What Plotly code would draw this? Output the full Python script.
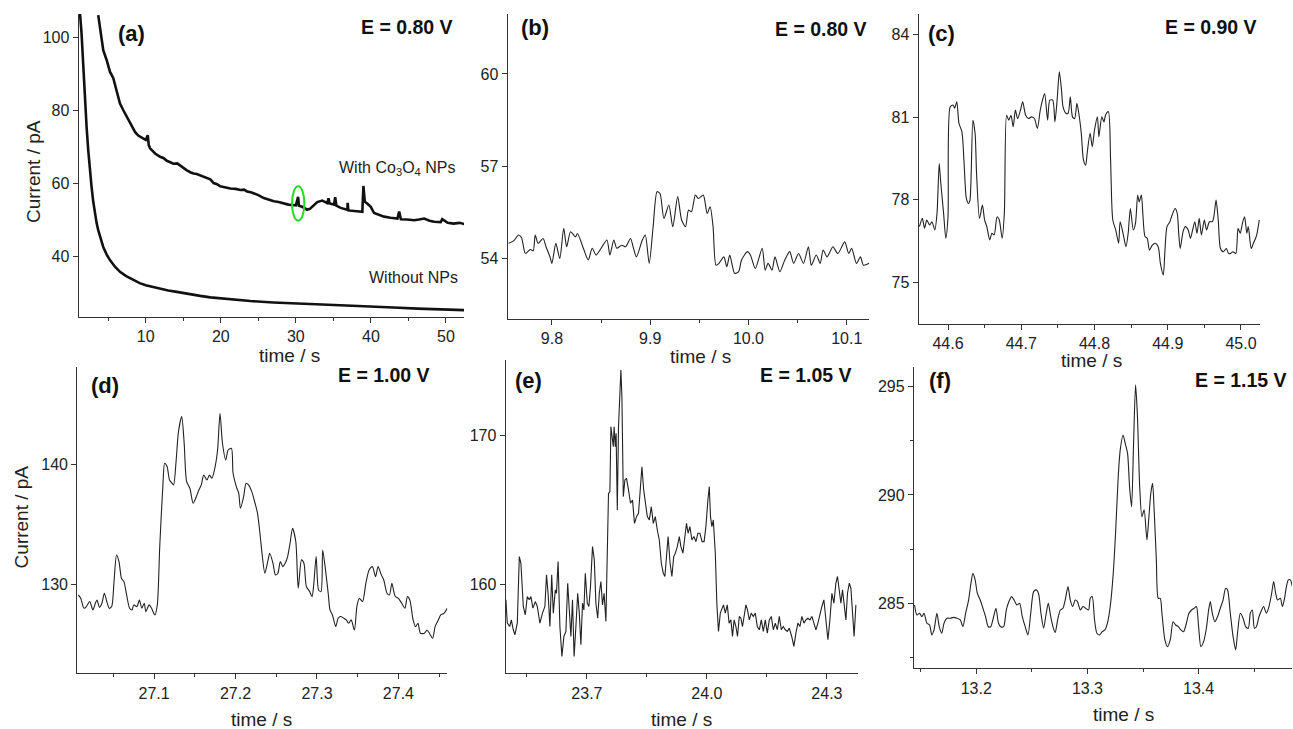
import plotly.graph_objects as go

# ---------------- data ----------------
# (a) full transients
a_with_t = [3.67, 4.0, 4.34, 4.79, 5.0, 5.23, 5.68, 5.9, 6.12, 6.57, 7.0, 7.24, 7.6, 7.91, 8.3, 8.57, 9.0, 9.24, 9.7, 10.0,
            10.27, 10.4, 10.58, 11.25, 11.92, 12.4, 12.81, 13.3, 13.70, 14.2, 14.59, 15.0, 15.48, 16.0, 16.37, 16.8, 17.26,
            17.7, 18.15, 18.6, 19.04, 19.5, 19.93, 20.6, 21.27, 22.0, 22.6, 23.1, 23.5, 24.0, 24.39, 25.0, 25.73, 26.4,
            27.06, 27.7, 28.40, 29.0, 29.51, 30.0, 30.3, 30.4, 30.85, 31.51, 31.9, 32.18, 32.85, 33.52, 34.19, 34.35,
            34.5, 35.08, 35.24, 35.4, 35.97, 36.86, 36.9, 37.0, 37.75, 38.3, 38.86, 39.0, 39.1, 39.18, 39.5, 39.98,
            40.42, 41.0, 41.76, 42.6, 43.54, 43.76, 43.99, 44.8, 45.77, 46.4, 47.1, 47.8, 48.45, 49.3, 49.5, 50.23,
            51.0, 51.8, 52.58]
a_with_i = [106.2, 101.0, 96.6, 93.9, 92.5, 90.7, 88.9, 87.0, 85.7, 82.0, 80.2, 79.3, 77.6, 76.5, 75.0, 74.2, 73.2, 72.9,
            72.3, 72.0, 73.3, 70.6, 69.7, 68.3, 67.4, 67.0, 66.3, 65.9, 65.5, 65.6, 65.0, 64.3, 63.7, 63.1, 62.8, 62.7,
            62.3, 61.8, 61.6, 61.2, 60.2, 59.9, 59.3, 59.0, 58.7, 58.6, 58.3, 58.4, 57.9, 57.7, 57.4, 56.9, 56.1, 55.6,
            55.2, 55.0, 54.6, 54.3, 54.2, 54.1, 56.4, 54.0, 53.7, 52.9, 53.2, 53.8, 55.0, 55.4, 54.7, 56.0, 54.6, 54.3,
            56.3, 54.0, 53.4, 52.9, 54.8, 52.7, 52.6, 52.5, 52.3, 59.4, 56.0, 55.1, 54.6, 53.7, 52.0, 51.5, 51.0, 50.7,
            50.5, 52.4, 50.3, 50.2, 50.0, 50.2, 50.5, 49.9, 49.6, 49.5, 50.3, 49.3, 49.1, 49.3, 48.9]
a_without_t = [1.15, 1.25, 1.45, 1.67, 1.89, 2.12, 2.34, 2.55, 2.78, 3.0, 3.23, 3.45, 3.67, 4.0, 4.34, 4.8, 5.23, 5.9,
               6.57, 7.4, 8.35, 9.2, 10.0, 11.0, 11.92, 13.0, 14.14, 15.6, 17.26, 18.6, 19.93, 22.0, 23.94, 27.0, 29.96,
               32.5, 35.08, 37.5, 39.98, 43.0, 46.21, 49.5, 52.58]
a_without_i = [112, 106.5, 101.2, 92.0, 82.9, 75.6, 69.2, 63.8, 59.2, 55.2, 51.9, 49.3, 47.3, 44.8, 42.7, 40.6, 39.1,
               37.3, 35.9, 34.7, 33.6, 32.8, 32.2, 31.7, 31.3, 30.8, 30.4, 29.8, 29.3, 28.9, 28.6, 28.2, 27.9, 27.5,
               27.2, 26.9, 26.8, 26.6, 26.3, 26.1, 25.8, 25.6, 25.4]

# (b) E = 0.80 V zoom
b_t = [9.756, 9.761, 9.766, 9.769, 9.773, 9.778, 9.781, 9.783, 9.786, 9.791, 9.794, 9.798, 9.800, 9.804, 9.808, 9.812,
       9.815, 9.819, 9.824, 9.826, 9.832, 9.837, 9.841, 9.845, 9.851, 9.856, 9.859, 9.863, 9.866, 9.871, 9.875, 9.880,
       9.883, 9.886, 9.892, 9.895, 9.899, 9.903, 9.907, 9.910, 9.914, 9.919, 9.923, 9.928, 9.932, 9.936, 9.939, 9.942,
       9.946, 9.949, 9.954, 9.958, 9.961, 9.964, 9.967, 9.970, 9.975, 9.978, 9.981, 9.986, 9.990, 9.993, 9.999, 10.002,
       10.007, 10.014, 10.017, 10.020, 10.024, 10.027, 10.032, 10.037, 10.042, 10.046, 10.051, 10.056, 10.061, 10.064,
       10.069, 10.073, 10.076, 10.080, 10.083, 10.086, 10.091, 10.098, 10.102, 10.105, 10.110, 10.114, 10.117, 10.123]
b_i = [54.49, 54.57, 54.76, 54.68, 54.16, 54.29, 54.25, 54.76, 54.49, 54.65, 54.38, 54.05, 53.84, 54.49, 54.00, 54.98,
       54.38, 54.87, 54.70, 54.81, 54.33, 53.95, 54.33, 54.11, 54.38, 54.60, 54.11, 54.60, 54.33, 54.43, 54.38, 54.65,
       54.33, 54.05, 54.60, 54.76, 53.84, 55.03, 56.17, 56.11, 55.30, 55.74, 55.03, 56.01, 55.25, 55.03, 55.57, 55.52,
       56.06, 55.95, 56.06, 55.46, 55.68, 55.03, 53.78, 53.84, 54.05, 53.73, 54.11, 53.51, 53.57, 53.95, 54.22, 54.11,
       53.67, 54.33, 53.62, 53.84, 53.62, 54.05, 53.57, 53.95, 54.22, 53.84, 54.16, 53.84, 54.38, 53.78, 54.11, 53.84,
       54.27, 54.05, 54.22, 54.38, 54.16, 54.54, 54.16, 54.33, 53.84, 54.05, 53.78, 53.84]

# (c) E = 0.90 V
c_t = [44.561, 44.565, 44.568, 44.571, 44.575, 44.578, 44.582, 44.585, 44.588, 44.590, 44.594, 44.597, 44.600, 44.603,
       44.607, 44.609, 44.612, 44.615, 44.619, 44.622, 44.625, 44.628, 44.630, 44.634, 44.637, 44.639, 44.643, 44.647,
       44.650, 44.653, 44.657, 44.660, 44.663, 44.667, 44.670, 44.674, 44.677, 44.680, 44.683, 44.686, 44.689, 44.692,
       44.695, 44.699, 44.702, 44.706, 44.710, 44.714, 44.718, 44.722, 44.726, 44.729, 44.732, 44.736, 44.739, 44.743,
       44.746, 44.749, 44.752, 44.755, 44.757, 44.761, 44.764, 44.767, 44.770, 44.773, 44.776, 44.779, 44.782, 44.785,
       44.788, 44.790, 44.794, 44.797, 44.800, 44.804, 44.806, 44.810, 44.813, 44.815, 44.819, 44.822, 44.825, 44.829,
       44.833, 44.835, 44.839, 44.843, 44.846, 44.849, 44.853, 44.856, 44.859, 44.861, 44.864, 44.866, 44.869, 44.872,
       44.875, 44.879, 44.883, 44.887, 44.890, 44.894, 44.896, 44.899, 44.903, 44.906, 44.910, 44.913, 44.915, 44.917,
       44.921, 44.924, 44.928, 44.931, 44.934, 44.937, 44.940, 44.943, 44.946, 44.950, 44.953, 44.957, 44.961, 44.963,
       44.966, 44.969, 44.972, 44.976, 44.980, 44.983, 44.986, 44.989, 44.993, 44.996, 44.999, 45.002, 45.005, 45.008,
       45.010, 45.014, 45.017, 45.020, 45.022, 45.025]
c_i = [77.03, 77.33, 76.97, 77.27, 77.09, 77.21, 76.91, 77.51, 79.32, 78.66, 77.51, 76.61, 77.39, 81.38, 81.44, 81.32,
       81.56, 80.77, 80.47, 79.32, 78.06, 77.87, 77.99, 80.89, 80.41, 78.96, 77.33, 77.81, 77.27, 77.03, 76.55, 76.79,
       76.73, 77.39, 77.27, 76.61, 77.57, 81.07, 80.89, 81.07, 80.65, 81.26, 80.95, 81.26, 81.56, 81.07, 80.95, 81.01,
       80.95, 80.59, 81.26, 81.62, 81.86, 80.89, 81.62, 81.62, 80.83, 81.62, 82.64, 81.98, 81.38, 81.14, 81.14, 81.74,
       81.01, 80.95, 81.50, 81.07, 80.41, 79.44, 79.26, 79.69, 80.41, 79.93, 80.53, 81.01, 80.29, 81.01, 80.83, 81.07,
       81.20, 79.44, 77.27, 76.91, 76.43, 77.21, 76.79, 76.30, 76.79, 77.69, 76.91, 77.15, 78.18, 77.93, 78.18, 77.51,
       76.67, 76.61, 76.18, 76.36, 76.43, 76.30, 75.70, 75.28, 76.06, 77.03, 77.21, 77.45, 77.69, 77.51, 76.79, 76.24,
       76.85, 77.03, 76.91, 76.61, 76.91, 77.21, 76.79, 77.33, 76.73, 77.27, 76.91, 77.21, 77.21, 77.39, 77.99, 77.27,
       76.24, 76.12, 76.24, 76.06, 76.06, 76.12, 76.06, 76.97, 76.79, 77.15, 77.39, 76.79, 77.03, 76.24, 76.43, 76.61,
       76.79, 77.27]

# (d) E = 1.00 V
d_t = [27.007, 27.010, 27.014, 27.017, 27.021, 27.025, 27.028, 27.030, 27.033, 27.036, 27.039, 27.042, 27.045, 27.048,
       27.051, 27.054, 27.057, 27.060, 27.063, 27.066, 27.070, 27.073, 27.075, 27.079, 27.082, 27.085, 27.088, 27.090,
       27.094, 27.097, 27.101, 27.104, 27.107, 27.111, 27.113, 27.116, 27.119, 27.122, 27.124, 27.127, 27.130, 27.134,
       27.137, 27.140, 27.144, 27.148, 27.152, 27.155, 27.158, 27.161, 27.165, 27.168, 27.171, 27.175, 27.178, 27.181,
       27.184, 27.188, 27.191, 27.195, 27.197, 27.201, 27.204, 27.206, 27.210, 27.213, 27.216, 27.220, 27.224, 27.227,
       27.230, 27.233, 27.236, 27.240, 27.242, 27.246, 27.249, 27.252, 27.255, 27.258, 27.261, 27.264, 27.267, 27.270,
       27.274, 27.277, 27.281, 27.284, 27.287, 27.291, 27.294, 27.296, 27.299, 27.302, 27.305, 27.307, 27.310, 27.314,
       27.316, 27.319, 27.323, 27.326, 27.329, 27.333, 27.336, 27.339, 27.342, 27.346, 27.349, 27.352, 27.356, 27.360,
       27.364, 27.368, 27.372, 27.375, 27.379, 27.382, 27.386, 27.389, 27.392, 27.396, 27.400, 27.404, 27.408, 27.411,
       27.414, 27.418, 27.421, 27.424, 27.427, 27.432, 27.435, 27.438, 27.442, 27.445, 27.449, 27.452, 27.456, 27.460]
d_i = [129.11, 128.83, 128.00, 128.14, 128.56, 127.86, 128.42, 128.69, 128.08, 128.42, 129.25, 128.56, 128.00, 128.14,
       130.36, 132.44, 131.89, 130.50, 130.22, 129.25, 128.00, 127.86, 128.28, 128.14, 128.69, 128.00, 128.42, 127.72,
       128.28, 128.00, 127.44, 128.28, 133.14, 138.42, 140.08, 139.81, 138.69, 138.42, 138.28, 140.19, 142.72, 143.97,
       141.75, 138.56, 138.00, 136.75, 137.31, 137.86, 138.28, 139.11, 138.69, 139.11, 138.83, 139.81, 141.19, 144.25,
       141.75, 140.36, 141.19, 141.33, 139.25, 138.14, 137.58, 136.33, 137.31, 138.42, 138.28, 137.72, 136.75, 135.92,
       134.25, 132.31, 130.92, 132.03, 132.58, 131.75, 130.78, 130.92, 131.89, 131.47, 131.75, 132.31, 133.42, 134.67,
       133.56, 129.67, 132.03, 131.75, 129.81, 129.39, 128.97, 129.94, 132.31, 129.53, 129.39, 132.86, 131.47, 129.11,
       127.86, 127.44, 126.47, 127.17, 127.31, 127.17, 127.03, 126.75, 127.03, 126.19, 128.14, 128.83, 128.56, 130.08,
       131.19, 131.47, 130.64, 131.47, 130.78, 130.36, 129.25, 129.11, 130.08, 129.00, 128.83, 128.42, 128.00, 128.97,
       128.69, 127.03, 126.47, 126.75, 125.92, 125.92, 126.19, 125.92, 125.50, 126.47, 127.03, 127.44, 127.58, 128.00]

# (e) E = 1.05 V
e_t = [23.4975, 23.501, 23.507, 23.511, 23.516, 23.520, 23.526, 23.531, 23.535, 23.541, 23.546, 23.551, 23.556, 23.560,
       23.565, 23.571, 23.576, 23.5825, 23.589, 23.595, 23.599, 23.603, 23.6075, 23.612, 23.616, 23.621, 23.624, 23.628,
       23.6325, 23.6375, 23.6425, 23.6475, 23.652, 23.656, 23.660, 23.664, 23.668, 23.6725, 23.677, 23.681, 23.685,
       23.689, 23.6925, 23.696, 23.701, 23.705, 23.709, 23.714, 23.7185, 23.7225, 23.727, 23.731, 23.735, 23.739,
       23.743, 23.7475, 23.751, 23.754, 23.7575, 23.760, 23.763, 23.766, 23.768, 23.771, 23.773, 23.776, 23.779,
       23.7825, 23.785, 23.7875, 23.791, 23.795, 23.799, 23.804, 23.809, 23.814, 23.819, 23.824, 23.829, 23.833,
       23.8375, 23.842, 23.846, 23.851, 23.856, 23.861, 23.866, 23.871, 23.876, 23.881, 23.886, 23.891, 23.895, 23.899,
       23.903, 23.908, 23.9125, 23.917, 23.921, 23.926, 23.931, 23.935, 23.940, 23.945, 23.949, 23.953, 23.9575,
       23.9625, 23.9675, 23.9725, 23.9775, 23.9825, 23.988, 23.993, 23.9975, 24.0025, 24.006, 24.009, 24.0125, 24.016,
       24.021, 24.025, 24.029, 24.0335, 24.0375, 24.0415, 24.046, 24.051, 24.0555, 24.060, 24.064, 24.068, 24.0725,
       24.0765, 24.081, 24.085, 24.089, 24.0935, 24.0975, 24.1015, 24.106, 24.111, 24.116, 24.121, 24.126, 24.131,
       24.136, 24.141, 24.146, 24.151, 24.156, 24.161, 24.166, 24.171, 24.176, 24.181, 24.186, 24.191, 24.196, 24.201,
       24.206, 24.212, 24.2175, 24.2225, 24.2275, 24.2325, 24.2375, 24.2425, 24.2475, 24.2525, 24.2575, 24.2625,
       24.2675, 24.2725, 24.2775, 24.2825, 24.2875, 24.2925, 24.2975, 24.3025, 24.3075, 24.3125, 24.3175, 24.3225,
       24.3265, 24.331, 24.335, 24.339, 24.343, 24.3475, 24.3515, 24.356, 24.360, 24.364, 24.368, 24.3725]
e_i = [158.95, 157.38, 157.15, 157.60, 156.93, 156.59, 157.38, 161.86, 161.41, 158.50, 157.94, 159.17, 158.95, 159.17,
       158.39, 158.83, 158.50, 157.38, 158.05, 158.50, 160.63, 159.39, 157.15, 160.63, 158.05, 159.62, 159.39, 161.52,
       157.15, 155.13, 156.48, 156.82, 160.07, 158.27, 156.48, 158.95, 155.13, 157.15, 159.39, 158.05, 155.92, 158.72,
       158.27, 160.74, 158.72, 158.50, 159.84, 162.53, 161.64, 158.72, 157.71, 159.39, 160.18, 158.61, 159.39, 157.49,
       162.98, 166.12, 166.23, 170.61, 169.93, 169.26, 170.61, 169.26, 170.16, 165.00, 170.61, 172.40, 174.42, 172.62,
       165.90, 167.02, 167.13, 166.35, 165.45, 165.67, 164.10, 164.55, 164.78, 166.23, 167.91, 166.35, 165.67, 164.55,
       164.33, 165.22, 164.10, 164.55, 163.65, 162.98, 161.41, 160.74, 160.52, 162.09, 163.21, 161.41, 160.52, 161.86,
       162.09, 162.53, 163.21, 162.53, 162.09, 163.21, 164.10, 163.43, 163.88, 162.98, 163.21, 162.87, 163.43, 163.43,
       162.87, 162.87, 163.88, 165.67, 166.57, 164.55, 163.88, 164.33, 162.09, 158.61, 156.82, 158.05, 158.39, 158.61,
       158.05, 158.61, 157.38, 157.60, 156.48, 157.60, 157.15, 156.48, 157.83, 157.71, 157.15, 158.05, 158.61, 158.27,
       157.60, 158.05, 157.83, 158.05, 157.15, 156.93, 157.60, 156.82, 157.60, 156.71, 157.60, 157.83, 156.93, 157.38,
       156.93, 157.83, 156.93, 157.15, 156.93, 156.82, 157.04, 156.48, 155.81, 156.71, 157.38, 157.15, 157.83, 157.38,
       157.60, 157.71, 157.60, 157.83, 157.38, 156.93, 157.38, 158.05, 158.50, 158.95, 157.38, 156.26, 157.60, 159.39,
       158.72, 160.07, 160.52, 159.39, 158.72, 159.62, 158.50, 157.60, 159.39, 160.07, 159.73, 158.05, 156.48, 158.61]

# (f) E = 1.15 V
f_t = [13.1445, 13.1466, 13.149, 13.151, 13.153, 13.1556, 13.158, 13.160, 13.162, 13.1646, 13.1667, 13.169, 13.171,
       13.1736, 13.1766, 13.1796, 13.1826, 13.1856, 13.188, 13.1904, 13.1931, 13.1952, 13.197, 13.199, 13.201, 13.2036,
       13.206, 13.2084, 13.2108, 13.213, 13.2156, 13.2177, 13.220, 13.222, 13.2246, 13.227, 13.2294, 13.2318, 13.234,
       13.2366, 13.239, 13.2414, 13.244, 13.2465, 13.249, 13.2516, 13.254, 13.256, 13.2582, 13.2606, 13.2627, 13.2648,
       13.267, 13.269, 13.271, 13.2732, 13.2756, 13.278, 13.280, 13.2825, 13.2846, 13.2867, 13.289, 13.291, 13.2936,
       13.296, 13.2984, 13.301, 13.3025, 13.3043, 13.3064, 13.3085, 13.311, 13.3133, 13.3157, 13.318, 13.3205, 13.323,
       13.3253, 13.3277, 13.3295, 13.332, 13.334, 13.3361, 13.3379, 13.3397, 13.3415, 13.3433, 13.345, 13.347, 13.349,
       13.351, 13.3535, 13.3553, 13.357, 13.3586, 13.360, 13.362, 13.3637, 13.3655, 13.367, 13.3697, 13.372, 13.3745,
       13.377, 13.3793, 13.3817, 13.384, 13.3865, 13.389, 13.3913, 13.3937, 13.396, 13.398, 13.400, 13.402, 13.4045,
       13.407, 13.409, 13.4105, 13.4123, 13.4147, 13.417, 13.4195, 13.422, 13.4243, 13.426, 13.4285, 13.431, 13.4333,
       13.435, 13.4375, 13.440, 13.4423, 13.4447, 13.4465, 13.4483, 13.4502, 13.452, 13.4543, 13.4567, 13.4585, 13.461,
       13.4633, 13.4657, 13.4675, 13.4693, 13.471, 13.4735, 13.4753, 13.477, 13.479, 13.4807, 13.4825, 13.4843]
f_i = [284.92, 284.46, 284.54, 284.38, 284.54, 284.08, 284.00, 283.54, 283.77, 284.54, 283.92, 283.62, 284.08, 284.31,
       284.31, 284.35, 284.31, 284.23, 283.92, 284.54, 285.15, 285.92, 286.38, 286.08, 285.46, 285.15, 284.77, 284.38,
       283.92, 283.92, 284.38, 284.77, 284.08, 283.92, 283.92, 284.69, 285.08, 285.31, 285.15, 284.92, 285.00, 284.38,
       283.92, 283.54, 284.54, 285.54, 285.62, 285.46, 284.54, 283.85, 284.46, 285.00, 284.38, 283.92, 283.65, 284.23,
       284.69, 284.77, 285.15, 285.77, 285.15, 284.85, 285.15, 285.08, 284.69, 284.85, 284.77, 284.69, 285.23, 285.31,
       284.23, 283.62, 283.54, 283.69, 283.77, 284.08, 284.85, 286.23, 288.23, 290.85, 292.08, 292.77, 292.38, 291.92,
       290.38, 289.46, 292.38, 295.08, 293.62, 290.38, 289.00, 289.31, 287.92, 289.00, 290.08, 290.54, 289.31, 287.00,
       285.23, 285.23, 284.54, 283.31, 283.00, 283.31, 284.15, 284.00, 283.92, 283.77, 283.69, 284.08, 284.54, 284.69,
       284.77, 284.85, 283.92, 283.00, 283.23, 283.85, 284.69, 285.08, 284.54, 284.15, 284.38, 284.77, 285.15, 285.69,
       285.62, 284.54, 283.46, 282.85, 283.62, 284.54, 284.31, 283.92, 283.85, 284.54, 284.69, 283.85, 283.92, 284.38,
       284.69, 284.85, 284.54, 284.85, 285.46, 286.00, 285.46, 285.15, 285.23, 284.85, 285.15, 285.77, 286.08, 286.08,
       285.77]

panel_labels = ["(a)", "(b)", "(c)", "(d)", "(e)", "(f)"]
potentials = ["E = 0.80 V", "E = 0.80 V", "E = 0.90 V", "E = 1.00 V", "E = 1.05 V", "E = 1.15 V"]

# ---------------- layout helpers ----------------
W, H = 1293, 729
def px(x):
    return x / W
def py(y):
    return 1 - y / H

FONT = "Liberation Sans, Arial, sans-serif"
AXC = "#333333"
TXT = "#222222"

fig = go.Figure()

# panel geometry in pixels: left, right, top, bottom
geom = [
    (78.7, 464.0, 14.0, 316.7),
    (507.7, 869.3, 14.0, 319.0),
    (918.7, 1260.0, 14.0, 324.0),
    (77.3, 447.3, 366.7, 673.3),
    (505.7, 857.7, 360.0, 673.3),
    (914.0, 1292.0, 366.7, 668.3),
]
xranges = [[1.07, 52.4], [9.755, 10.123], [44.56, 45.026], [27.0058, 27.46], [23.497, 24.377], [13.144, 13.484]]
yranges = [[23.6, 106.5], [52.03, 61.95], [73.5, 84.74], [122.58, 148.13], [154.0, 175.1], [282.0, 295.92]]
xticks = [dict(tick0=0, dtick=10, minor=5, fmt=""),
          dict(tick0=9.8, dtick=0.1, minor=0.05, fmt=".1f"),
          dict(tick0=44.6, dtick=0.1, minor=0.05, fmt=".1f"),
          dict(tick0=27.1, dtick=0.1, minor=0.05, fmt=".1f"),
          dict(tick0=23.7, dtick=0.3, minor=0.15, fmt=".1f"),
          dict(tick0=13.2, dtick=0.1, minor=0.05, fmt=".1f")]
yticks = [dict(tick0=0, dtick=20, minor=None),
          dict(tick0=54, dtick=3, minor=None),
          dict(tick0=75, dtick=3, minor=None),
          dict(tick0=130, dtick=10, minor=None),
          dict(tick0=160, dtick=10, minor=None),
          dict(tick0=285, dtick=5, minor=2.5)]

layout = dict(width=W, height=H, margin=dict(l=0, r=0, t=0, b=0),
              paper_bgcolor="white", plot_bgcolor="white", showlegend=False,
              font=dict(family=FONT, color=TXT))

TICKSIZE = 16
for k, (l, r, t, b) in enumerate(geom):
    n = "" if k == 0 else str(k + 1)
    xt, yt = xticks[k], yticks[k]
    xa = dict(domain=[px(l), px(r)], range=xranges[k], anchor="y" + n,
              showline=True, linecolor=AXC, linewidth=1.3, mirror=False,
              ticks="outside", ticklen=5, tickwidth=1.2, tickcolor=AXC,
              tick0=xt["tick0"], dtick=xt["dtick"], tickformat=xt["fmt"],
              tickfont=dict(size=TICKSIZE, color=TXT, family=FONT),
              minor=dict(ticks="outside", ticklen=3, tickcolor=AXC, dtick=xt["minor"], tick0=xt["tick0"]),
              showgrid=False, zeroline=False)
    ya = dict(domain=[py(b), py(t)], range=yranges[k], anchor="x" + n,
              showline=True, linecolor=AXC, linewidth=1.3, mirror=False,
              ticks="outside", ticklen=5, tickwidth=1.2, tickcolor=AXC,
              tick0=yt["tick0"], dtick=yt["dtick"],
              tickfont=dict(size=TICKSIZE, color=TXT, family=FONT),
              showgrid=False, zeroline=False)
    if yt["minor"]:
        ya["minor"] = dict(ticks="outside", ticklen=3, tickcolor=AXC, dtick=yt["minor"], tick0=yt["tick0"])
    layout["xaxis" + n] = xa
    layout["yaxis" + n] = ya

fig.update_layout(**layout)

# ---------------- traces ----------------
fig.add_trace(go.Scatter(x=a_without_t, y=a_without_i, mode="lines", xaxis="x", yaxis="y",
                         line=dict(color="#111111", width=2.6)))
fig.add_trace(go.Scatter(x=a_with_t, y=a_with_i, mode="lines", xaxis="x", yaxis="y",
                         line=dict(color="#111111", width=2.6)))
smooth = dict(shape="spline", smoothing=0.7)
fig.add_trace(go.Scatter(x=b_t, y=b_i, mode="lines", xaxis="x2", yaxis="y2",
                         line=dict(color="#222222", width=1.1, **smooth)))
fig.add_trace(go.Scatter(x=c_t, y=c_i, mode="lines", xaxis="x3", yaxis="y3",
                         line=dict(color="#222222", width=1.1, **smooth)))
fig.add_trace(go.Scatter(x=d_t, y=d_i, mode="lines", xaxis="x4", yaxis="y4",
                         line=dict(color="#222222", width=1.1, **smooth)))
fig.add_trace(go.Scatter(x=e_t, y=e_i, mode="lines", xaxis="x5", yaxis="y5",
                         line=dict(color="#222222", width=1.1)))
fig.add_trace(go.Scatter(x=f_t, y=f_i, mode="lines", xaxis="x6", yaxis="y6",
                         line=dict(color="#222222", width=1.1, **smooth)))

# green ellipse highlighting the event in (a)
ell_t, ell_i, ell_dt, ell_di = 30.31, 54.6, 0.82, 4.7
fig.add_shape(type="circle", xref="x", yref="y", x0=ell_t - ell_dt, x1=ell_t + ell_dt,
              y0=ell_i - ell_di, y1=ell_i + ell_di, line=dict(color="#22dd22", width=2))

# ---------------- annotations ----------------
ann = []
label_pos = [(131.7, 33.3), (535, 27.5), (941, 33.3), (105, 385), (528.3, 380), (940, 380)]
e_pos = [(455, 27), (868.5, 29), (1258.5, 27), (432, 375), (853.5, 375), (1288.5, 380)]
for k in range(6):
    ann.append(dict(text="<b>%s</b>" % panel_labels[k], x=px(label_pos[k][0]), y=py(label_pos[k][1]),
                    xref="paper", yref="paper", xanchor="center", yanchor="middle", showarrow=False,
                    font=dict(size=22, color="#111111", family=FONT)))
    ann.append(dict(text="<b>%s</b>" % potentials[k], x=px(e_pos[k][0]), y=py(e_pos[k][1]),
                    xref="paper", yref="paper", xanchor="right", yanchor="middle", showarrow=False,
                    font=dict(size=19.5, color="#111111", family=FONT)))

xtitle_pos = [(289, 355), (700, 356.5), (1091.7, 361), (261.7, 719), (681.7, 719), (1123.3, 714)]
for (x, y) in xtitle_pos:
    ann.append(dict(text="time / s", x=px(x), y=py(y), xref="paper", yref="paper",
                    xanchor="center", yanchor="middle", showarrow=False,
                    font=dict(size=19, color=TXT, family=FONT)))
for (x, y) in [(33.3, 171.7), (21.7, 516.7)]:
    ann.append(dict(text="Current / pA", x=px(x), y=py(y), xref="paper", yref="paper", textangle=-90,
                    xanchor="center", yanchor="middle", showarrow=False,
                    font=dict(size=19, color=TXT, family=FONT)))

ann.append(dict(text="With Co<sub>3</sub>O<sub>4</sub> NPs", x=px(397.7), y=py(168.3), xref="paper", yref="paper",
                xanchor="center", yanchor="middle", showarrow=False, font=dict(size=16, color=TXT, family=FONT)))
ann.append(dict(text="Without NPs", x=px(413), y=py(277.3), xref="paper", yref="paper",
                xanchor="center", yanchor="middle", showarrow=False, font=dict(size=16, color=TXT, family=FONT)))

fig.update_layout(annotations=ann)
fig.write_html("out.html")
